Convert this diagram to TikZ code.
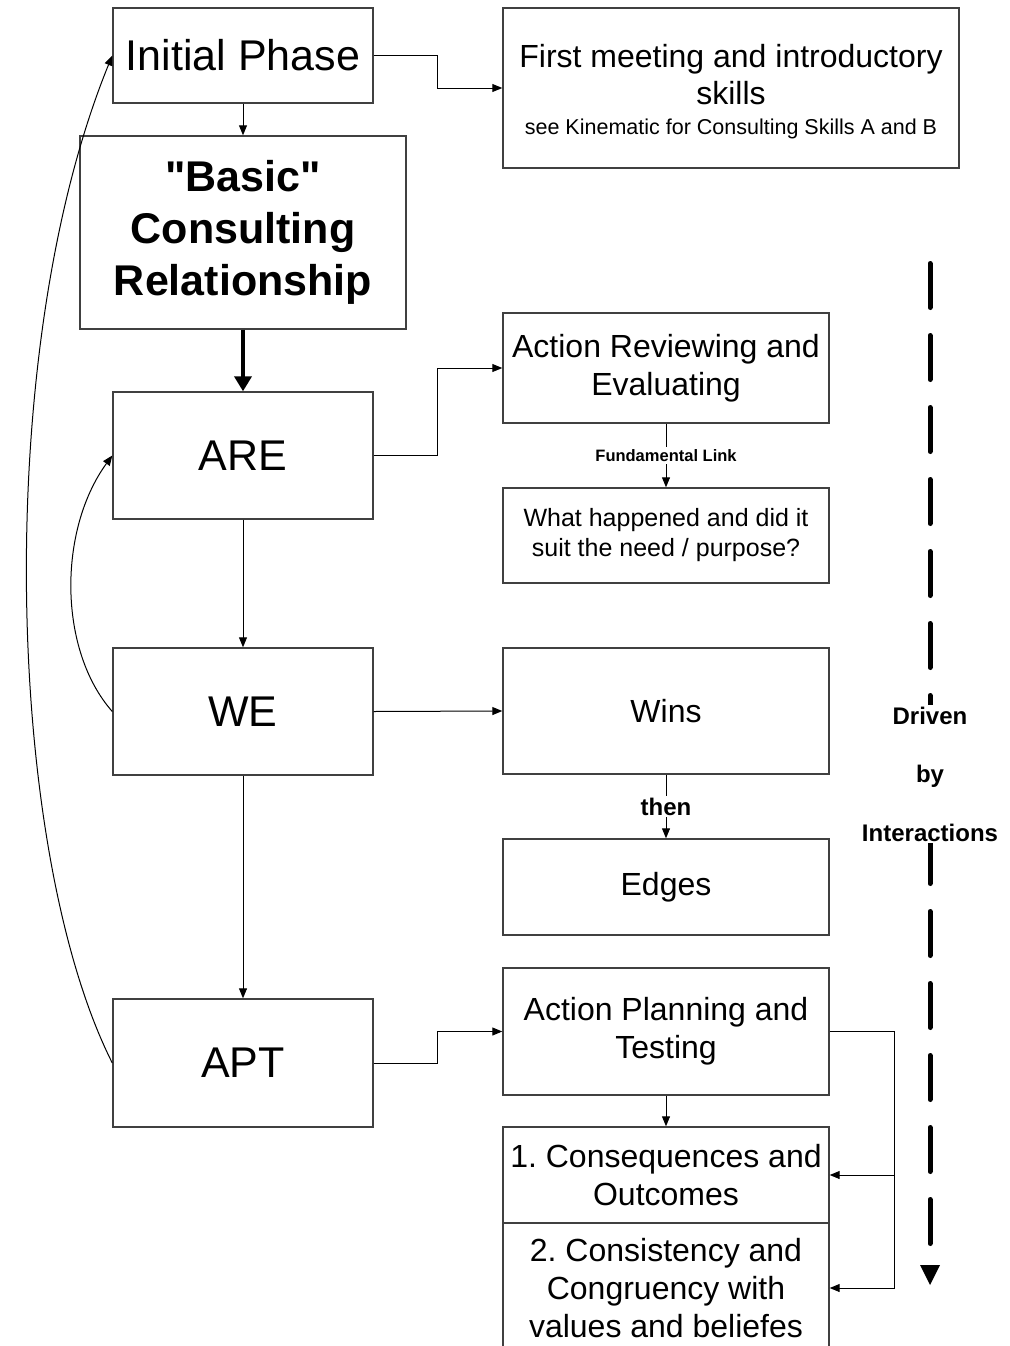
\documentclass[tikz,border=0pt]{standalone}
\usepackage{fontspec}
\setmainfont{Liberation Sans}[Ligatures=TeXOff]
\usetikzlibrary{arrows.meta}
\definecolor{boxline}{HTML}{404040}
\newcommand\fsz[2]{\fontsize{#1}{#2}\selectfont}
\frenchspacing
\begin{document}
\begin{tikzpicture}[x=1pt,y=-1pt,
  box/.style={draw=boxline, line width=1.4pt, inner sep=0pt, align=center, font=\fsz{32}{38}},
  phase/.style={box, minimum width=260pt, font=\fsz{43}{50}},
  sidebox/.style={box, minimum width=326pt},
  conn/.style={draw=black, line width=1pt, -{Triangle[length=10pt,width=8pt]}},
  mainflow/.style={draw=black, line width=4pt, -{Triangle[length=15pt,width=17pt]}},
  linklabel/.style={fill=white, inner sep=2pt, font=\bfseries},
  drive/.style={line width=5pt, line cap=round, dash pattern=on 44pt off 28pt}]

% page frame
\path[use as bounding box, clip] (0,0) rectangle (1009,1346);
\fill[white] (0,0) rectangle (1009,1346);

% left column: phases
\node[phase, minimum height=95pt] (init) at (243,55.5) {Initial Phase};
\node[box, minimum width=326pt, minimum height=193pt, font=\fsz{43}{52}\bfseries] (basic) at (243,232.5) {"Basic"\\Consulting\\Relationship};
\node[phase, minimum height=127pt] (are) at (243,455.5) {ARE};
\node[phase, minimum height=127pt] (we) at (243,711.5) {WE};
\node[phase, minimum height=128pt] (apt) at (243,1063) {APT};

% right column: details
\node[box, minimum width=456pt, minimum height=160pt] (first) at (731,88) {};
\node[align=center, inner sep=0pt, font=\fsz{32}{37}] (firsttext) at (731,92)
  {First meeting and introductory\\skills\\[-7pt]{\fsz{21.5}{26}see Kinematic for Consulting Skills A and B}};
\node[sidebox, minimum height=110pt] (rev) at (666,368) {Action Reviewing and\\Evaluating};
\node[sidebox, minimum height=95pt, font=\fsz{25}{30}] (what) at (666,535.5) {What happened and did it\\suit the need / purpose?};
\node[sidebox, minimum height=126pt] (wins) at (666,711) {Wins};
\node[sidebox, minimum height=96pt] (edges) at (666,887) {Edges};
\node[sidebox, minimum height=127pt] (plan) at (666,1031.5) {Action Planning and\\Testing};
\node[sidebox, minimum height=96pt] (cons) at (666,1175) {1. Consequences and\\Outcomes};
\node[sidebox, minimum height=130pt] (consist) at (666,1288) {2. Consistency and\\Congruency with\\values and beliefes};

% connectors
\draw[conn] (init.east) -- ++(64,0) |- (first.west);
\draw[conn] (init.south) -- (basic.north);
\draw[mainflow] (basic.south) -- (are.north);
\draw[conn] (are.east) -- ++(64,0) |- (rev.west);
\draw[conn] (rev.south) -- node[linklabel, font=\fsz{16.5}{18}\bfseries] (fl) {Fundamental Link} (what.north);
\draw[conn] (are.south) -- (we.north);
\draw[conn] (we.east) -- (wins.west);
\draw[conn] (wins.south) -- node[linklabel, font=\fsz{24}{28}\bfseries] (then) {then} (edges.north);
\draw[conn] (we.south) -- (apt.north);
\draw[conn] (apt.east) -- ++(64,0) |- (plan.west);
\draw[conn] (plan.south) -- (cons.north);
\draw[conn] (plan.east) -- ++(65,0) coordinate (fork) |- (cons.east);
\draw[conn] (fork) |- (consist.east);

% feedback loops on the left
\draw[conn] (we.west) .. controls (58,650) and (58,530) .. (are.west);
\draw[conn] (apt.west) .. controls (5,850) and (-8,350) .. (init.west);

% driving line on the right
\coordinate (dtop) at (930,263.5);
\coordinate (dbot) at (930,1246);
\draw[drive] (dtop) -- (dbot);
\fill (920,1265) -- (940,1265) -- (930,1285) -- cycle;
\node[fill=white, inner sep=2pt, align=center, font=\fsz{24}{58.5}\bfseries] (drv) at (930,774) {Driven\\by\\Interactions};
\end{tikzpicture}
\end{document}
